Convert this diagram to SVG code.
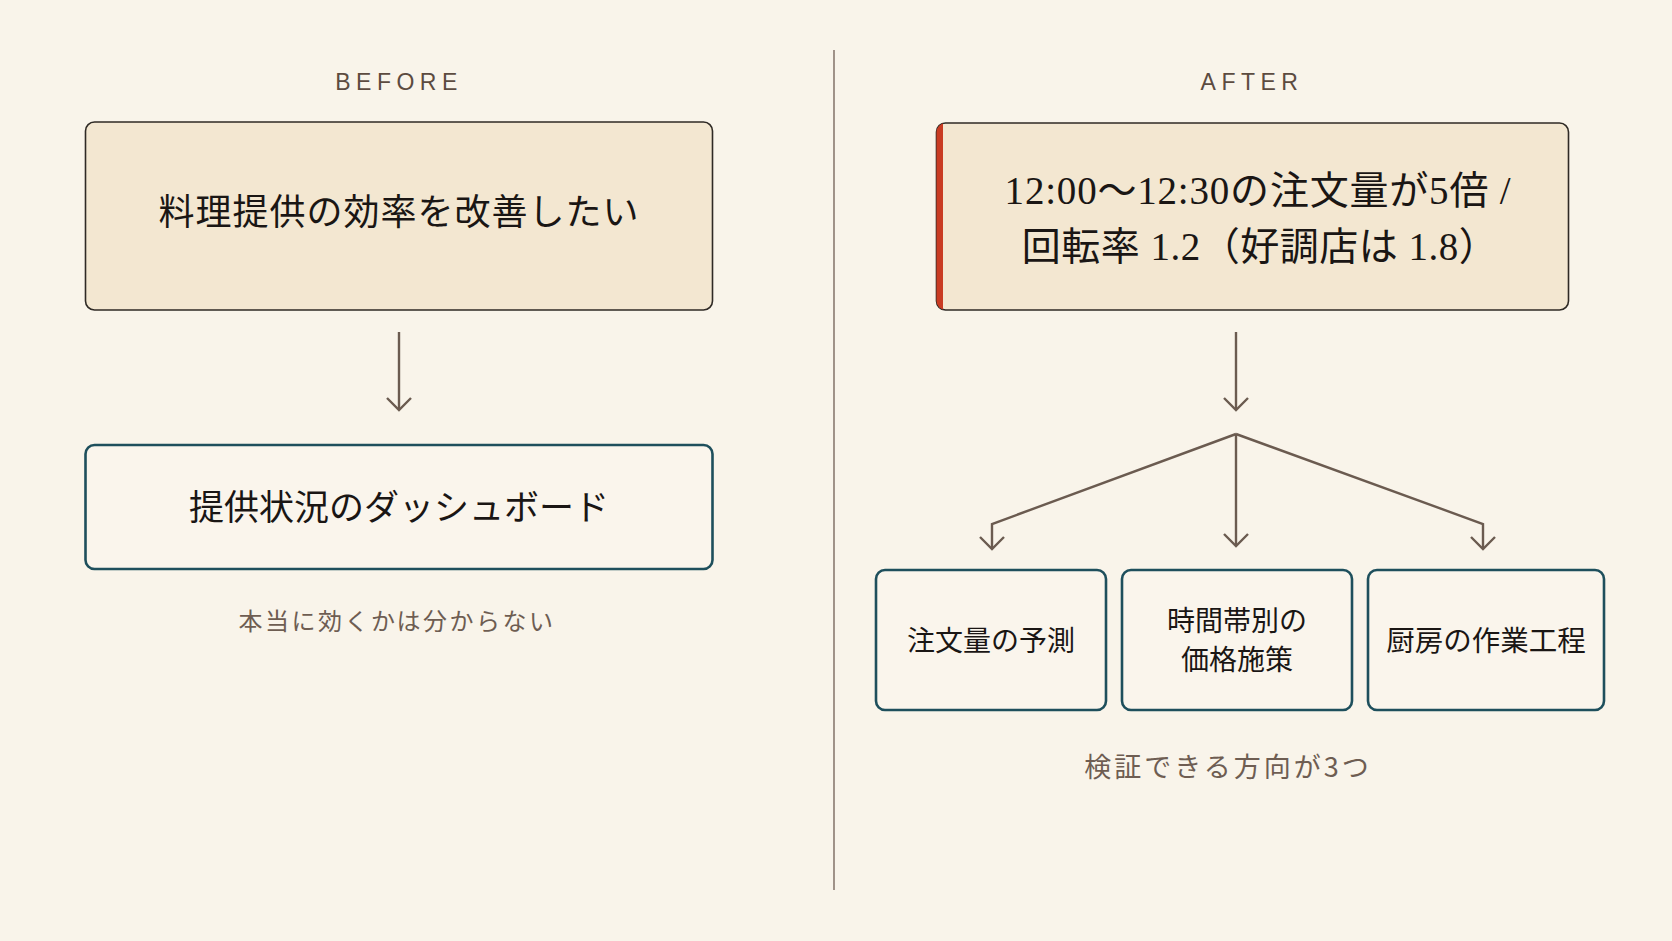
<svg xmlns="http://www.w3.org/2000/svg" width="1672" height="941" viewBox="0 0 1672 941">
<style>
.bg{fill:#f9f4ea}
.label{font-family:"Liberation Sans","Noto Sans",sans-serif;font-size:23px;letter-spacing:5.5px;fill:#5c4b40;text-anchor:middle;dominant-baseline:central}
.main{fill:#f3e7d1;stroke:#2f2a25;stroke-width:1.6}
.sub{fill:#faf5ec;stroke:#1e4f5c;stroke-width:2.6}
.jp{font-family:"Liberation Serif","Noto Sans CJK JP",serif;fill:#1a1614;text-anchor:middle;dominant-baseline:central}
.note{font-family:"Noto Sans CJK JP","Noto Sans",sans-serif;fill:#6e5d52;text-anchor:middle;dominant-baseline:central}
.conn{stroke:#6b5b50;stroke-width:2.4;fill:none}
</style>
<defs>
<marker id="arr" viewBox="0 0 20 28" refX="18" refY="14" markerWidth="20" markerHeight="28" markerUnits="userSpaceOnUse" orient="auto">
<path d="M6,2 L18,14 L6,26" fill="none" stroke="#6b5b50" stroke-width="2.4"/>
</marker>
<clipPath id="clipA">
<rect x="936.5" y="123" width="632" height="187" rx="9"/>
</clipPath>
</defs>
<rect class="bg" x="0" y="0" width="1672" height="941"/>
<line x1="834" y1="50" x2="834" y2="890" stroke="#8a7a70" stroke-width="1.6"/>
<text class="label" x="399" y="82">BEFORE</text>
<text class="label" x="1252" y="82">AFTER</text>
<g id="before-goal">
<rect class="main" x="85.5" y="122" width="627" height="188" rx="9"/>
<text class="jp" x="399" y="213" font-size="36" letter-spacing="1">料理提供の効率を改善したい</text>
</g>
<g id="before-solution">
<rect class="sub" x="85.5" y="445" width="627" height="124" rx="9"/>
<text class="jp" x="399" y="508" font-size="35">提供状況のダッシュボード</text>
</g>
<text id="before-note" class="note" x="397" y="619" font-size="24" letter-spacing="2.5">本当に効くかは分からない</text>
<g id="after-goal">
<rect class="main" x="936.5" y="123" width="632" height="187" rx="9"/>
<rect x="934" y="120" width="9" height="193" fill="#c93b22" clip-path="url(#clipA)"/>
<text class="jp" x="1258" y="190" font-size="39" letter-spacing="0.8">12:00～12:30の注文量が5倍 /</text>
<text class="jp" x="1260" y="246" font-size="39" letter-spacing="0.5">回転率 1.2（好調店は 1.8）</text>
</g>
<g id="after-a">
<rect class="sub" x="876" y="570" width="230" height="140" rx="9"/>
<text class="jp" x="991" y="641" font-size="28">注文量の予測</text>
</g>
<g id="after-b">
<rect class="sub" x="1122" y="570" width="230" height="140" rx="9"/>
<text class="jp" x="1237" y="621" font-size="28">時間帯別の</text>
<text class="jp" x="1237" y="660" font-size="28">価格施策</text>
</g>
<g id="after-c">
<rect class="sub" x="1368" y="570" width="236" height="140" rx="9"/>
<text class="jp" x="1486" y="641" font-size="28.5">厨房の作業工程</text>
</g>
<text id="after-note" class="note" x="1228" y="765" font-size="27" letter-spacing="3">検証できる方向が3つ</text>
<g id="connectors">
<line class="conn" x1="399" y1="332" x2="399" y2="410" marker-end="url(#arr)"/>
<line class="conn" x1="1236" y1="332" x2="1236" y2="410" marker-end="url(#arr)"/>
<polyline class="conn" points="1236,434 992,524 992,549" marker-end="url(#arr)"/>
<line class="conn" x1="1236" y1="434" x2="1236" y2="546" marker-end="url(#arr)"/>
<polyline class="conn" points="1236,434 1483,524 1483,549" marker-end="url(#arr)"/>
</g>
</svg>
